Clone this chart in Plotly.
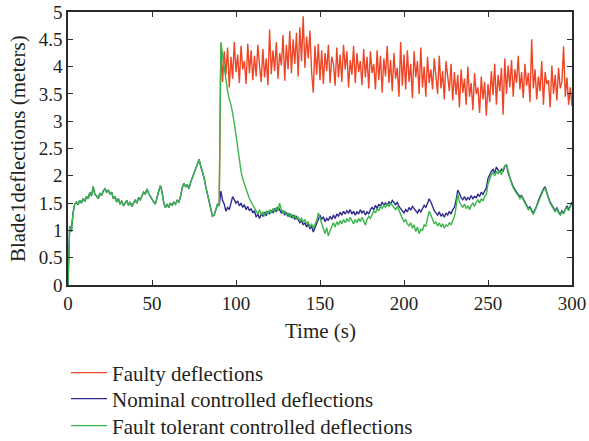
import plotly.graph_objects as go

# ---- data ----
pre_fault_time = list(range(0, 91))
pre_fault = [
    0.00, 1.08, 0.98, 1.32, 1.48, 1.52, 1.47, 1.55, 1.50, 1.58,
    1.53, 1.62, 1.58, 1.70, 1.63, 1.80, 1.66, 1.63, 1.58, 1.68,
    1.64, 1.72, 1.76, 1.70, 1.74, 1.66, 1.70, 1.58, 1.62, 1.52,
    1.58, 1.48, 1.54, 1.45, 1.50, 1.55, 1.46, 1.52, 1.44, 1.50,
    1.56, 1.50, 1.60, 1.56, 1.64, 1.70, 1.66, 1.76, 1.68, 1.62,
    1.58, 1.52, 1.48, 1.62, 1.72, 1.82, 1.70, 1.50, 1.42, 1.48,
    1.42, 1.50, 1.46, 1.52, 1.48, 1.55, 1.52, 1.62, 1.78, 1.86,
    1.80, 1.84, 1.76, 1.88, 1.96, 2.04, 2.12, 2.20, 2.30, 2.18,
    2.08, 1.96, 1.80, 1.66, 1.52, 1.38, 1.26, 1.28, 1.38, 1.48,
    1.45,
]

post_time = list(range(91, 301))

faulty = [
    4.40, 3.72, 4.28, 3.85, 4.35, 3.62, 4.18, 3.78, 4.45, 3.90,
    4.22, 3.70, 4.38, 3.95, 4.10, 3.68, 4.42, 3.88, 4.30, 3.75,
    4.20, 3.82, 4.40, 4.02, 3.72, 4.32, 3.80, 4.15, 3.66, 4.68,
    3.86, 4.30, 3.92, 4.45, 3.78, 4.25, 4.02, 4.58, 3.74, 4.40,
    3.95, 4.65, 3.88, 4.50, 4.05, 4.62, 3.82, 4.72, 4.10, 4.92,
    3.98, 4.55, 4.15, 4.66, 3.90, 3.52, 4.38, 3.85, 4.42, 3.75,
    4.30, 3.68, 4.25, 3.92, 4.40, 3.70, 4.18, 4.05, 3.65, 4.35,
    3.80, 4.22, 3.72, 4.40, 3.95, 4.28, 3.62, 4.12, 3.85, 4.38,
    3.70, 4.25, 3.90, 4.10, 3.66, 4.32, 3.80, 4.18, 3.60, 4.28,
    3.88, 4.05, 3.58, 4.30, 3.75, 4.20, 3.52, 4.15, 3.82, 4.38,
    3.70, 4.12, 3.55, 4.25, 3.78, 3.98, 3.45, 4.45, 3.65, 4.22,
    3.58, 4.30, 3.72, 4.05, 3.42, 4.28, 3.80, 4.10, 3.50, 4.35,
    3.62, 4.00, 3.45, 4.18, 3.70, 3.95, 3.58, 4.15, 3.82, 3.50,
    4.20, 3.60, 3.92, 3.40, 4.10, 3.75, 3.55, 4.05, 3.38, 3.90,
    3.48, 3.85, 3.25, 3.95, 3.52, 3.78, 3.30, 4.00, 3.45, 3.70,
    3.20, 3.88, 3.50, 3.62, 3.15, 3.82, 3.40, 3.72, 3.10, 3.68,
    3.35, 3.92, 3.48, 4.05, 3.30, 3.85, 3.55, 3.98, 3.12, 4.15,
    3.50, 4.02, 3.62, 4.12, 3.45, 3.95, 3.70, 4.20, 3.58, 3.90,
    3.42, 4.05, 3.65, 3.88, 3.35, 4.50, 3.60, 3.95, 3.40, 3.82,
    3.55, 4.10, 3.30, 3.90, 3.68, 3.75, 3.25, 4.02, 3.50, 3.85,
    3.38, 3.98, 3.60, 3.72, 4.37, 3.45, 3.80, 3.30, 3.62, 3.28,
]

nominal_post = [
    1.72, 1.55, 1.48, 1.35, 1.42, 1.38, 1.52, 1.62, 1.56, 1.50,
    1.54, 1.45, 1.50, 1.42, 1.47, 1.38, 1.44, 1.36, 1.40, 1.32,
    1.36, 1.24, 1.30, 1.22, 1.30, 1.26, 1.33, 1.27, 1.35, 1.30,
    1.37, 1.32, 1.40, 1.34, 1.43, 1.38, 1.32, 1.36, 1.28, 1.33,
    1.26, 1.30, 1.24, 1.28, 1.20, 1.25, 1.18, 1.14, 1.18, 1.10,
    1.14, 1.06, 1.12, 1.03, 1.08, 0.97, 1.05, 1.14, 1.22, 1.28,
    1.20, 1.25, 1.16, 1.22, 1.18, 1.26, 1.20, 1.28, 1.22, 1.30,
    1.26, 1.33, 1.28, 1.35, 1.30, 1.36, 1.32, 1.38, 1.30, 1.35,
    1.28, 1.34, 1.30, 1.38, 1.32, 1.36, 1.28, 1.34, 1.30, 1.38,
    1.42, 1.38, 1.46, 1.40, 1.48, 1.44, 1.52, 1.46, 1.50, 1.45,
    1.53, 1.48, 1.55, 1.50, 1.47, 1.52, 1.44, 1.40, 1.35, 1.32,
    1.38, 1.34, 1.42, 1.37, 1.44, 1.40, 1.36, 1.32, 1.38, 1.34,
    1.40, 1.46, 1.42, 1.52, 1.58, 1.52, 1.44, 1.36, 1.32, 1.28,
    1.34, 1.26, 1.30, 1.24, 1.32, 1.28, 1.35, 1.30, 1.38, 1.42,
    1.55, 1.74, 1.68, 1.60, 1.56, 1.62, 1.55, 1.60, 1.57, 1.64,
    1.58, 1.62, 1.60, 1.66, 1.62, 1.70, 1.66, 1.72, 1.78, 1.95,
    2.02, 2.08, 2.12, 2.05, 2.16, 2.10, 2.06, 2.12, 2.08, 2.18,
    2.20, 2.05, 1.95, 1.88, 1.80, 1.74, 1.70, 1.66, 1.62, 1.64,
    1.58, 1.52, 1.46, 1.40, 1.44, 1.36, 1.32, 1.38, 1.45, 1.55,
    1.62, 1.70, 1.76, 1.80, 1.68, 1.60, 1.52, 1.46, 1.40, 1.36,
    1.42, 1.34, 1.30, 1.36, 1.32, 1.40, 1.45, 1.38, 1.46, 1.52,
]

tolerant_post = [
    4.45, 4.20, 3.95, 3.70, 3.55, 3.40, 3.30, 3.15, 2.98, 2.75,
    2.52, 2.28, 2.08, 1.94, 1.84, 1.74, 1.66, 1.58, 1.52, 1.46,
    1.40, 1.36, 1.30, 1.38, 1.28, 1.34, 1.26, 1.36, 1.30, 1.38,
    1.32, 1.40, 1.34, 1.42, 1.36, 1.50, 1.38, 1.32, 1.36, 1.28,
    1.32, 1.24, 1.30, 1.22, 1.28, 1.20, 1.25, 1.18, 1.22, 1.15,
    1.20, 1.12, 1.16, 1.06, 1.12, 1.04, 1.10, 1.18, 1.32, 1.22,
    1.10, 1.02, 0.94, 1.05, 0.90, 1.00, 1.08, 1.14, 1.06, 1.16,
    1.10, 1.18, 1.12, 1.20, 1.14, 1.22, 1.16, 1.24, 1.18, 1.12,
    1.20, 1.14, 1.22, 1.16, 1.24, 1.18, 1.10, 1.20, 1.26, 1.22,
    1.30, 1.36, 1.32, 1.40, 1.36, 1.44, 1.40, 1.46, 1.42, 1.48,
    1.44, 1.50, 1.46, 1.42, 1.38, 1.44, 1.36, 1.28, 1.22, 1.16,
    1.20, 1.12, 1.08, 1.14, 1.04, 1.10, 0.98, 1.06, 0.94, 1.02,
    1.00, 1.10, 1.08, 1.22, 1.35, 1.28, 1.20, 1.12, 1.16, 1.08,
    1.14, 1.06, 1.12, 1.04, 1.10, 1.08, 1.14, 1.10, 1.18, 1.25,
    1.42, 1.68, 1.52, 1.46, 1.42, 1.48, 1.40, 1.45, 1.38, 1.46,
    1.50, 1.44, 1.52, 1.56, 1.50, 1.58, 1.54, 1.62, 1.66, 1.85,
    1.96, 2.02, 2.06, 2.00, 2.08, 2.04, 2.10, 2.02, 2.12, 2.18,
    2.20, 2.08, 1.98, 1.86, 1.78, 1.72, 1.68, 1.64, 1.58, 1.62,
    1.56, 1.50, 1.44, 1.38, 1.42, 1.34, 1.30, 1.36, 1.44, 1.52,
    1.60, 1.68, 1.74, 1.78, 1.66, 1.58, 1.50, 1.44, 1.38, 1.34,
    1.40, 1.32, 1.28, 1.34, 1.30, 1.38, 1.42, 1.36, 1.44, 1.50,
]

series_names = ["Faulty deflections", "Nominal controlled deflections",
                "Fault tolerant controlled deflections"]
x_title = "Time (s)"
y_title = "Blade1deflections (meters)"
x_ticks = [0, 50, 100, 150, 200, 250, 300]
y_ticks = [0, 0.5, 1, 1.5, 2, 2.5, 3, 3.5, 4, 4.5, 5]

# ---- build series ----
t_full = pre_fault_time + post_time
faulty_t = [pre_fault_time[-1]] + post_time
faulty_v = [pre_fault[-1]] + faulty
nominal_v = pre_fault + nominal_post
tolerant_v = pre_fault + tolerant_post

RED = "#ee4526"
BLUE = "#2e2a8e"
GREEN = "#3bb54a"
FONT = "Liberation Serif"
TXT = "#231f20"

fig = go.Figure()
fig.add_trace(go.Scatter(x=faulty_t, y=faulty_v, mode="lines", name=series_names[0],
                         line=dict(color=RED, width=1.4), legend="legend"))
fig.add_trace(go.Scatter(x=t_full, y=nominal_v, mode="lines", name=series_names[1],
                         line=dict(color=BLUE, width=1.4), legend="legend2"))
fig.add_trace(go.Scatter(x=t_full, y=tolerant_v, mode="lines", name=series_names[2],
                         line=dict(color=GREEN, width=1.4), legend="legend3"))

axis_common = dict(
    showline=True, linecolor="#2b2b2b", linewidth=1.5, mirror="ticks",
    ticks="inside", ticklen=5, tickwidth=1, tickcolor="#2b2b2b",
    showgrid=False, zeroline=False,
    tickfont=dict(family=FONT, size=19, color=TXT),
)

leg_common = dict(xref="container", yref="container", x=66 / 589,
                  xanchor="left", yanchor="middle", orientation="v",
                  font=dict(family=FONT, size=21, color=TXT),
                  bgcolor="rgba(0,0,0,0)", itemwidth=36)

fig.update_layout(
    width=589, height=441,
    margin=dict(l=68, r=17, t=12, b=156, autoexpand=False),
    paper_bgcolor="white", plot_bgcolor="white",
    font=dict(family=FONT, size=21, color=TXT),
    xaxis=dict(range=[0, 300], tickvals=x_ticks, **axis_common),
    yaxis=dict(range=[0, 5], tickvals=y_ticks, **axis_common),
    showlegend=True,
    legend=dict(y=1 - 373 / 441, **leg_common),
    legend2=dict(y=1 - 399 / 441, **leg_common),
    legend3=dict(y=1 - 426 / 441, **leg_common),
    annotations=[
        dict(text=x_title, xref="paper", yref="paper", x=0.5, y=-0.167,
             xanchor="center", yanchor="middle", showarrow=False,
             font=dict(family=FONT, size=21, color=TXT)),
        dict(text=y_title, xref="paper", yref="paper", x=-0.1, y=0.5,
             xanchor="center", yanchor="middle", textangle=-90, showarrow=False,
             font=dict(family=FONT, size=21, color=TXT)),
    ],
)

fig.write_html("out.html")
